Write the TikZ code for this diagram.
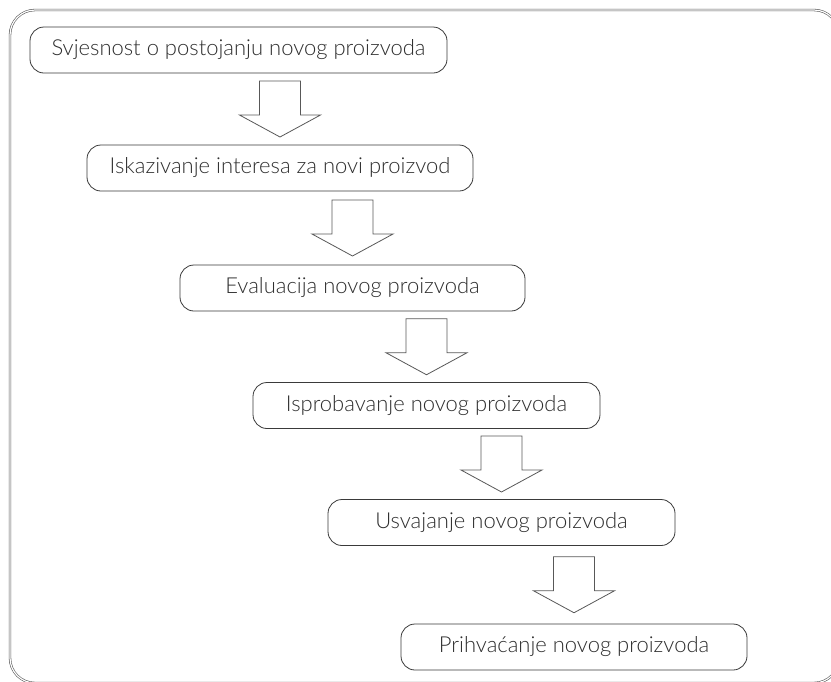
\documentclass[tikz,border=0pt]{standalone}
\usepackage{fontspec}
\setmainfont{Lato}[UprightFont=* Light]
\usepackage{xcolor}
\usepackage{tikz}
\usetikzlibrary{calc,positioning}
\definecolor{cLine}{HTML}{3A3A3A}
\definecolor{cText}{HTML}{2E2E2E}
\definecolor{cFrame}{HTML}{5A5A5A}
\tikzset{
  stage/.style={rounded corners=14pt, draw=cLine, line width=0.8pt, fill=white,
                text=cText, align=center, font=\fontsize{22}{26}\selectfont,
                minimum height=46pt, inner sep=0pt},
  barrow/.style={draw=cLine!85, line width=0.8pt, fill=white},
  frame/.style={draw=cFrame, line width=0.6pt, double=white, double distance=1.2pt,
                rounded corners=25pt},
}
% hollow block arrow from one stage to the next
\newcommand{\stagearrow}[2]{%
  \draw[barrow] let \p1=($(#1.south)!0.5!(#2.north)$), \p2=(#2.north) in
    (\x2-20.5pt,\y1+28pt) -- (\x2+20.5pt,\y1+28pt) -- (\x2+20.5pt,\y1-6pt)
    -- (\x2+40.5pt,\y1-6pt) -- (\x2,\y1-28pt) -- (\x2-40.5pt,\y1-6pt)
    -- (\x2-20.5pt,\y1-6pt) -- cycle;}

\begin{document}
\begin{tikzpicture}[x=1pt, y=-1pt]
  \useasboundingbox (0,0) rectangle (831,681);
  \draw[frame] (10,10) rectangle (839,683);

  \node[stage, minimum width=417pt] (aware) at (238.5,50) {Svjesnost o postojanju novog proizvoda};
  \node[stage, minimum width=386pt] (interest) at (280,168) {Iskazivanje interesa za novi proizvod};
  \node[stage, minimum width=345pt] (eval) at (352.5,288) {Evaluacija novog proizvoda};
  \node[stage, minimum width=347pt] (trial) at (426.5,405.5) {Isprobavanje novog proizvoda};
  \node[stage, minimum width=347pt] (adopt) at (501.5,522.5) {Usvajanje novog proizvoda};
  \node[stage, minimum width=346pt] (accept) at (574,647) {Prihvaćanje novog proizvoda};

  \stagearrow{aware}{interest}
  \stagearrow{interest}{eval}
  \stagearrow{eval}{trial}
  \stagearrow{trial}{adopt}
  \stagearrow{adopt}{accept}
\end{tikzpicture}
\end{document}
